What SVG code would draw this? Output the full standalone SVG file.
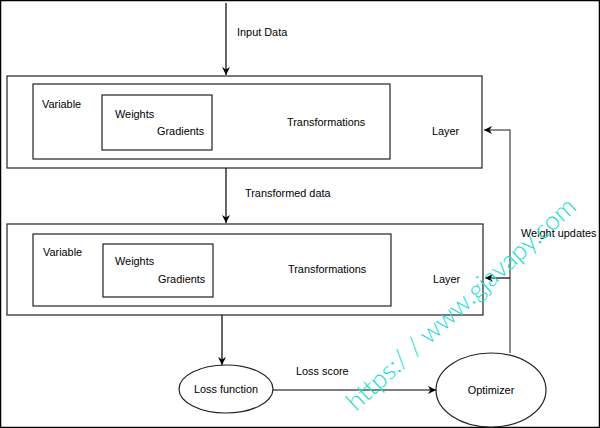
<svg xmlns="http://www.w3.org/2000/svg" width="600" height="428" viewBox="0 0 600 428">
<defs>
<marker id="ah" viewBox="0 0 10 10" refX="10" refY="5" markerWidth="8" markerHeight="8" orient="auto" markerUnits="userSpaceOnUse">
<path d="M0,0 L10,5 L0,10 L3,5 Z" fill="#000"/>
</marker>
</defs>
<style>
.t{font-family:"Liberation Sans",Arial,sans-serif;font-size:10.9px;fill:#000}
.box{fill:#fff;stroke:#222;stroke-width:1.2}
.in{fill:none;stroke:#222;stroke-width:1.2}
.ln{fill:none;stroke:#000;stroke-width:1.2}
.gr{fill:none;stroke:#666;stroke-width:1.5}
.wm{font-family:"Lato","Noto Sans",sans-serif;font-weight:300;font-size:26px;fill:#22dcd4}
</style>
<rect x="0" y="0" width="600" height="428" fill="#fff"/>
<rect x="0.5" y="0.5" width="599" height="427" fill="none" stroke="#000" stroke-width="1.5"/>
<g id="layer1">
<rect class="box" x="7" y="76" width="475" height="92"/>
<rect class="in" x="33" y="84" width="357" height="75"/>
<rect class="in" x="102" y="95" width="110" height="55"/>
<text class="t" x="42" y="108">Variable</text>
<text class="t" x="115" y="118">Weights</text>
<text class="t" x="157" y="135">Gradients</text>
<text class="t" x="287" y="126">Transformations</text>
<text class="t" x="432" y="135">Layer</text>
</g>
<g id="layer2">
<rect class="box" x="7" y="224" width="476" height="91"/>
<rect class="in" x="33" y="234" width="358" height="72"/>
<rect class="in" x="103" y="244" width="110" height="53"/>
<text class="t" x="43" y="256">Variable</text>
<text class="t" x="115" y="265">Weights</text>
<text class="t" x="158" y="283">Gradients</text>
<text class="t" x="288" y="273">Transformations</text>
<text class="t" x="433" y="283">Layer</text>
</g>
<g id="lossfn">
<ellipse class="box" cx="226" cy="389" rx="47" ry="24"/>
<text class="t" x="226" y="393" text-anchor="middle">Loss function</text>
</g>
<g id="optimizer">
<ellipse class="box" cx="491" cy="390" rx="55" ry="37"/>
<text class="t" x="491" y="394" text-anchor="middle">Optimizer</text>
</g>
<g id="connectors">
<line class="ln" x1="226" y1="3" x2="226" y2="75" marker-end="url(#ah)"/>
<line class="ln" x1="226" y1="168" x2="226" y2="223" marker-end="url(#ah)"/>
<line class="ln" x1="222" y1="315" x2="222" y2="365" marker-end="url(#ah)"/>
<line class="ln" x1="273" y1="390" x2="436" y2="390" marker-end="url(#ah)"/>
<path class="gr" d="M510,353 L510,130 L484,130" marker-end="url(#ah)"/>
<line class="ln" x1="510" y1="278" x2="485" y2="278" marker-end="url(#ah)"/>
<text class="t" x="237" y="36">Input Data</text>
<text class="t" x="245" y="197">Transformed data</text>
<text class="t" x="296" y="375">Loss score</text>
<text class="t" x="521" y="237">Weight updates</text>
</g>
<text class="wm" transform="translate(356,412) rotate(-42.5)">https:/ / www.gjavapy.com</text>
</svg>
